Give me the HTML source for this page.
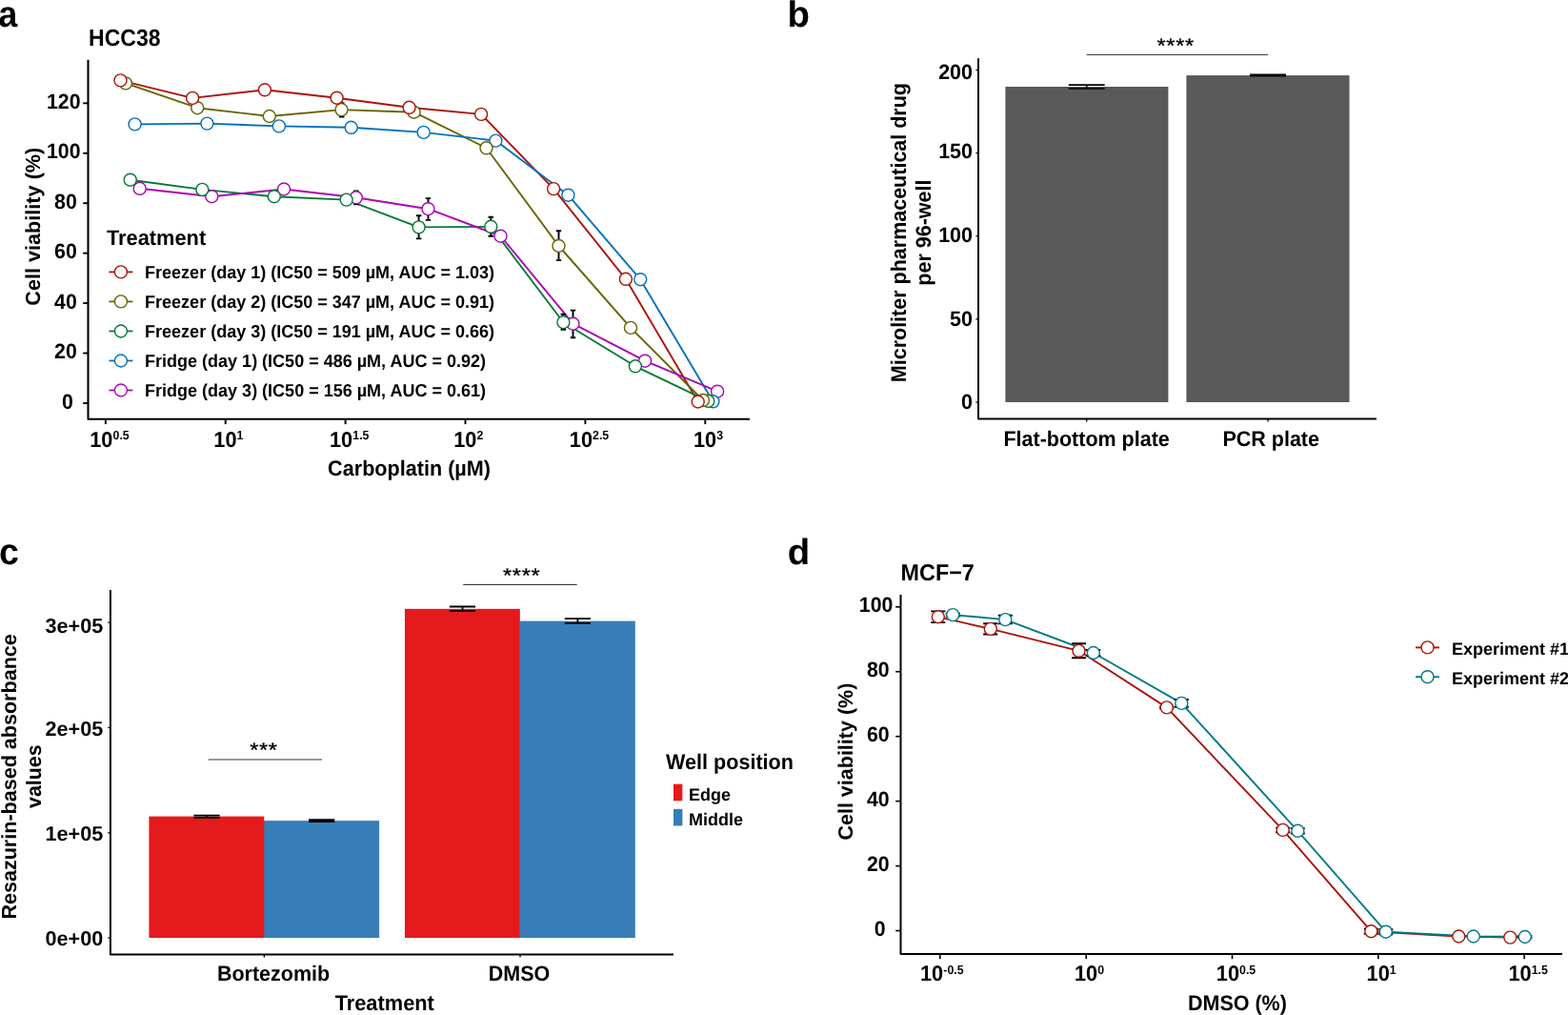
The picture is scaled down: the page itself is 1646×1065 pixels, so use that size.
<!DOCTYPE html>
<html lang="en">
<head>
<meta charset="utf-8">
<title>Figure</title>
<style>
html,body{margin:0;padding:0;background:#fff;}
body{width:1646px;height:1065px;overflow:hidden;}
svg{display:block;font-family:'Liberation Sans', Arial, Helvetica, sans-serif;text-rendering:geometricPrecision;}
</style>
</head>
<body>
<svg width="1646" height="1065" viewBox="0 0 1646 1065">
<rect x="0" y="0" width="1646" height="1065" fill="#ffffff"/>
<text transform="translate(-1.70 28.00) scale(1 1.075)" font-size="36.0" text-anchor="start" font-weight="bold" fill="#000" >a</text>
<text transform="translate(93.05 47.50) scale(1 1.075)" font-size="23.0" text-anchor="start" font-weight="bold" fill="#000" >HCC38</text>
<polyline points="92.5,62.8 92.5,439.8 787,439.8" fill="none" stroke="#000" stroke-width="2.1" stroke-linejoin="round"/>
<line x1="87.2" y1="423.0" x2="92.5" y2="423.0" stroke="#000" stroke-width="1.9" />
<text transform="translate(76.80 428.50) scale(1 1.042)" font-size="21.3" text-anchor="end" font-weight="bold" fill="#000" >0</text>
<line x1="87.2" y1="370.55" x2="92.5" y2="370.55" stroke="#000" stroke-width="1.9" />
<text transform="translate(80.80 376.05) scale(1 1.042)" font-size="21.3" text-anchor="end" font-weight="bold" fill="#000" >20</text>
<line x1="87.2" y1="318.1" x2="92.5" y2="318.1" stroke="#000" stroke-width="1.9" />
<text transform="translate(80.80 323.60) scale(1 1.042)" font-size="21.3" text-anchor="end" font-weight="bold" fill="#000" >40</text>
<line x1="87.2" y1="265.65" x2="92.5" y2="265.65" stroke="#000" stroke-width="1.9" />
<text transform="translate(80.80 271.15) scale(1 1.042)" font-size="21.3" text-anchor="end" font-weight="bold" fill="#000" >60</text>
<line x1="87.2" y1="213.2" x2="92.5" y2="213.2" stroke="#000" stroke-width="1.9" />
<text transform="translate(80.80 218.70) scale(1 1.042)" font-size="21.3" text-anchor="end" font-weight="bold" fill="#000" >80</text>
<line x1="87.2" y1="160.75" x2="92.5" y2="160.75" stroke="#000" stroke-width="1.9" />
<text transform="translate(84.50 166.25) scale(1 1.042)" font-size="21.3" text-anchor="end" font-weight="bold" fill="#000" >100</text>
<line x1="87.2" y1="108.30000000000001" x2="92.5" y2="108.30000000000001" stroke="#000" stroke-width="1.9" />
<text transform="translate(84.50 113.80) scale(1 1.042)" font-size="21.3" text-anchor="end" font-weight="bold" fill="#000" >120</text>
<line x1="110.85" y1="439.8" x2="110.85" y2="445.1" stroke="#000" stroke-width="1.9" />
<text transform="translate(94.30 468.60) scale(1 1.053)" font-size="21.7" text-anchor="start" font-weight="bold" fill="#000">10</text>
<text transform="translate(118.54 460.80) scale(1 1.06)" font-size="12.3" text-anchor="start" font-weight="bold" fill="#000">0.5</text>
<line x1="236.7" y1="439.8" x2="236.7" y2="445.1" stroke="#000" stroke-width="1.9" />
<text transform="translate(224.35 468.60) scale(1 1.053)" font-size="21.7" text-anchor="start" font-weight="bold" fill="#000">10</text>
<text transform="translate(248.59 460.80) scale(1 1.06)" font-size="12.3" text-anchor="start" font-weight="bold" fill="#000">1</text>
<line x1="362.6" y1="439.8" x2="362.6" y2="445.1" stroke="#000" stroke-width="1.9" />
<text transform="translate(346.05 468.60) scale(1 1.053)" font-size="21.7" text-anchor="start" font-weight="bold" fill="#000">10</text>
<text transform="translate(370.29 460.80) scale(1 1.06)" font-size="12.3" text-anchor="start" font-weight="bold" fill="#000">1.5</text>
<line x1="488.5" y1="439.8" x2="488.5" y2="445.1" stroke="#000" stroke-width="1.9" />
<text transform="translate(476.15 468.60) scale(1 1.053)" font-size="21.7" text-anchor="start" font-weight="bold" fill="#000">10</text>
<text transform="translate(500.39 460.80) scale(1 1.06)" font-size="12.3" text-anchor="start" font-weight="bold" fill="#000">2</text>
<line x1="614.4" y1="439.8" x2="614.4" y2="445.1" stroke="#000" stroke-width="1.9" />
<text transform="translate(597.85 468.60) scale(1 1.053)" font-size="21.7" text-anchor="start" font-weight="bold" fill="#000">10</text>
<text transform="translate(622.09 460.80) scale(1 1.06)" font-size="12.3" text-anchor="start" font-weight="bold" fill="#000">2.5</text>
<line x1="740.3" y1="439.8" x2="740.3" y2="445.1" stroke="#000" stroke-width="1.9" />
<text transform="translate(727.95 468.60) scale(1 1.053)" font-size="21.7" text-anchor="start" font-weight="bold" fill="#000">10</text>
<text transform="translate(752.19 460.80) scale(1 1.06)" font-size="12.3" text-anchor="start" font-weight="bold" fill="#000">3</text>
<text transform="translate(429.55 499.10) scale(1 1.045)" font-size="21.62" text-anchor="middle" font-weight="bold" fill="#000" >Carboplatin (µM)</text>
<text transform="translate(42.30 237.70) rotate(-90)" font-size="21.65" text-anchor="middle" font-weight="bold" fill="#000" >Cell viability (%)</text>
<polyline points="126.5,84.4 202.1,102.9 277.9,94.3 353.6,102.7 429.6,112.8 505.1,119.9 581.1,198.1 656.9,292.8 732.7,421.5" fill="none" stroke="#AB1408" stroke-width="1.9" stroke-linejoin="round"/>
<polyline points="131.9,87.4 207.2,113.2 282.8,122.0 358.5,115.1 434.5,117.7 510.5,155.3 586.5,258.0 662.0,343.9 738.0,420.0" fill="none" stroke="#676400" stroke-width="1.9" stroke-linejoin="round"/>
<polyline points="136.7,188.7 212.3,198.9 287.8,206.2 363.6,209.6 439.6,238.4 515.3,237.8 591.4,338.2 666.9,384.3 743.3,420.8" fill="none" stroke="#007A35" stroke-width="1.9" stroke-linejoin="round"/>
<polyline points="141.6,130.4 217.4,129.6 292.9,132.4 368.7,133.8 444.7,138.9 520.4,147.6 596.4,204.7 672.2,293.2 748.4,421.3" fill="none" stroke="#0070BE" stroke-width="1.9" stroke-linejoin="round"/>
<polyline points="146.7,197.8 222.3,206.2 298.0,198.5 373.8,207.3 449.5,219.2 525.5,247.7 601.5,339.7 677.1,378.7 753.1,410.7" fill="none" stroke="#AB06B6" stroke-width="1.9" stroke-linejoin="round"/>
<path d="M436.9 226.3H442.4M436.9 250.4H442.4M439.6 226.3V250.4" fill="none" stroke="#000" stroke-width="1.9"/>
<path d="M446.8 208.1H452.2M446.8 230.9H452.2M449.5 208.1V230.9" fill="none" stroke="#000" stroke-width="1.9"/>
<path d="M512.5 227.8H518.0M512.5 247.7H518.0M515.3 227.8V247.7" fill="none" stroke="#000" stroke-width="1.9"/>
<path d="M583.8 242.2H589.2M583.8 273.1H589.2M586.5 242.2V273.1" fill="none" stroke="#000" stroke-width="1.9"/>
<path d="M588.6 329.8H594.1M588.6 345.7H594.1M591.4 329.8V345.7" fill="none" stroke="#000" stroke-width="1.9"/>
<path d="M598.8 325.6H604.2M598.8 354.2H604.2M601.5 325.6V354.2" fill="none" stroke="#000" stroke-width="1.9"/>
<path d="M371.1 200.4H376.6M371.1 214.4H376.6M373.9 200.4V214.4" fill="none" stroke="#000" stroke-width="1.9"/>
<path d="M355.9 108.1H361.4M355.9 122.6H361.4M358.7 108.1V122.6" fill="none" stroke="#000" stroke-width="1.9"/>
<circle cx="146.7" cy="197.8" r="6.5" fill="#fff" stroke="#AB06B6" stroke-width="1.4"/>
<circle cx="222.3" cy="206.2" r="6.5" fill="#fff" stroke="#AB06B6" stroke-width="1.4"/>
<circle cx="298.0" cy="198.5" r="6.5" fill="#fff" stroke="#AB06B6" stroke-width="1.4"/>
<circle cx="373.8" cy="207.3" r="6.5" fill="#fff" stroke="#AB06B6" stroke-width="1.4"/>
<circle cx="449.5" cy="219.2" r="6.5" fill="#fff" stroke="#AB06B6" stroke-width="1.4"/>
<circle cx="525.5" cy="247.7" r="6.5" fill="#fff" stroke="#AB06B6" stroke-width="1.4"/>
<circle cx="601.5" cy="339.7" r="6.5" fill="#fff" stroke="#AB06B6" stroke-width="1.4"/>
<circle cx="677.1" cy="378.7" r="6.5" fill="#fff" stroke="#AB06B6" stroke-width="1.4"/>
<circle cx="753.1" cy="410.7" r="6.5" fill="#fff" stroke="#AB06B6" stroke-width="1.4"/>
<circle cx="141.6" cy="130.4" r="6.5" fill="#fff" stroke="#0070BE" stroke-width="1.4"/>
<circle cx="217.4" cy="129.6" r="6.5" fill="#fff" stroke="#0070BE" stroke-width="1.4"/>
<circle cx="292.9" cy="132.4" r="6.5" fill="#fff" stroke="#0070BE" stroke-width="1.4"/>
<circle cx="368.7" cy="133.8" r="6.5" fill="#fff" stroke="#0070BE" stroke-width="1.4"/>
<circle cx="444.7" cy="138.9" r="6.5" fill="#fff" stroke="#0070BE" stroke-width="1.4"/>
<circle cx="520.4" cy="147.6" r="6.5" fill="#fff" stroke="#0070BE" stroke-width="1.4"/>
<circle cx="596.4" cy="204.7" r="6.5" fill="#fff" stroke="#0070BE" stroke-width="1.4"/>
<circle cx="672.2" cy="293.2" r="6.5" fill="#fff" stroke="#0070BE" stroke-width="1.4"/>
<circle cx="748.4" cy="421.3" r="6.5" fill="#fff" stroke="#0070BE" stroke-width="1.4"/>
<circle cx="136.7" cy="188.7" r="6.5" fill="#fff" stroke="#007A35" stroke-width="1.4"/>
<circle cx="212.3" cy="198.9" r="6.5" fill="#fff" stroke="#007A35" stroke-width="1.4"/>
<circle cx="287.8" cy="206.2" r="6.5" fill="#fff" stroke="#007A35" stroke-width="1.4"/>
<circle cx="363.6" cy="209.6" r="6.5" fill="#fff" stroke="#007A35" stroke-width="1.4"/>
<circle cx="439.6" cy="238.4" r="6.5" fill="#fff" stroke="#007A35" stroke-width="1.4"/>
<circle cx="515.3" cy="237.8" r="6.5" fill="#fff" stroke="#007A35" stroke-width="1.4"/>
<circle cx="591.4" cy="338.2" r="6.5" fill="#fff" stroke="#007A35" stroke-width="1.4"/>
<circle cx="666.9" cy="384.3" r="6.5" fill="#fff" stroke="#007A35" stroke-width="1.4"/>
<circle cx="743.3" cy="420.8" r="6.5" fill="#fff" stroke="#007A35" stroke-width="1.4"/>
<circle cx="131.9" cy="87.4" r="6.5" fill="#fff" stroke="#676400" stroke-width="1.4"/>
<circle cx="207.2" cy="113.2" r="6.5" fill="#fff" stroke="#676400" stroke-width="1.4"/>
<circle cx="282.8" cy="122.0" r="6.5" fill="#fff" stroke="#676400" stroke-width="1.4"/>
<circle cx="358.5" cy="115.1" r="6.5" fill="#fff" stroke="#676400" stroke-width="1.4"/>
<circle cx="434.5" cy="117.7" r="6.5" fill="#fff" stroke="#676400" stroke-width="1.4"/>
<circle cx="510.5" cy="155.3" r="6.5" fill="#fff" stroke="#676400" stroke-width="1.4"/>
<circle cx="586.5" cy="258.0" r="6.5" fill="#fff" stroke="#676400" stroke-width="1.4"/>
<circle cx="662.0" cy="343.9" r="6.5" fill="#fff" stroke="#676400" stroke-width="1.4"/>
<circle cx="738.0" cy="420.0" r="6.5" fill="#fff" stroke="#676400" stroke-width="1.4"/>
<circle cx="126.5" cy="84.4" r="6.5" fill="#fff" stroke="#AB1408" stroke-width="1.4"/>
<circle cx="202.1" cy="102.9" r="6.5" fill="#fff" stroke="#AB1408" stroke-width="1.4"/>
<circle cx="277.9" cy="94.3" r="6.5" fill="#fff" stroke="#AB1408" stroke-width="1.4"/>
<circle cx="353.6" cy="102.7" r="6.5" fill="#fff" stroke="#AB1408" stroke-width="1.4"/>
<circle cx="429.6" cy="112.8" r="6.5" fill="#fff" stroke="#AB1408" stroke-width="1.4"/>
<circle cx="505.1" cy="119.9" r="6.5" fill="#fff" stroke="#AB1408" stroke-width="1.4"/>
<circle cx="581.1" cy="198.1" r="6.5" fill="#fff" stroke="#AB1408" stroke-width="1.4"/>
<circle cx="656.9" cy="292.8" r="6.5" fill="#fff" stroke="#AB1408" stroke-width="1.4"/>
<circle cx="732.7" cy="421.5" r="6.5" fill="#fff" stroke="#AB1408" stroke-width="1.4"/>
<text transform="translate(112.00 257.00) scale(1 1.025)" font-size="21.8" text-anchor="start" font-weight="bold" fill="#000" >Treatment</text>
<line x1="114.4" y1="285.4" x2="139.4" y2="285.4" stroke="#AB1408" stroke-width="1.75" />
<circle cx="126.9" cy="285.4" r="6.5" fill="#fff" stroke="#AB1408" stroke-width="1.4"/>
<text transform="translate(152.10 291.70) scale(1 1.04)" font-size="18" text-anchor="start" font-weight="bold" fill="#000" >Freezer (day 1) (IC50 = 509 µM, AUC = 1.03)</text>
<line x1="114.4" y1="316.42999999999995" x2="139.4" y2="316.42999999999995" stroke="#676400" stroke-width="1.75" />
<circle cx="126.9" cy="316.4" r="6.5" fill="#fff" stroke="#676400" stroke-width="1.4"/>
<text transform="translate(152.10 322.73) scale(1 1.04)" font-size="18" text-anchor="start" font-weight="bold" fill="#000" >Freezer (day 2) (IC50 = 347 µM, AUC = 0.91)</text>
<line x1="114.4" y1="347.46" x2="139.4" y2="347.46" stroke="#007A35" stroke-width="1.75" />
<circle cx="126.9" cy="347.5" r="6.5" fill="#fff" stroke="#007A35" stroke-width="1.4"/>
<text transform="translate(152.10 353.76) scale(1 1.04)" font-size="18" text-anchor="start" font-weight="bold" fill="#000" >Freezer (day 3) (IC50 = 191 µM, AUC = 0.66)</text>
<line x1="114.4" y1="378.49" x2="139.4" y2="378.49" stroke="#0070BE" stroke-width="1.75" />
<circle cx="126.9" cy="378.5" r="6.5" fill="#fff" stroke="#0070BE" stroke-width="1.4"/>
<text transform="translate(152.10 384.79) scale(1 1.04)" font-size="18" text-anchor="start" font-weight="bold" fill="#000" >Fridge (day 1) (IC50 = 486 µM, AUC = 0.92)</text>
<line x1="114.4" y1="409.52" x2="139.4" y2="409.52" stroke="#AB06B6" stroke-width="1.75" />
<circle cx="126.9" cy="409.5" r="6.5" fill="#fff" stroke="#AB06B6" stroke-width="1.4"/>
<text transform="translate(152.10 415.82) scale(1 1.04)" font-size="18" text-anchor="start" font-weight="bold" fill="#000" >Fridge (day 3) (IC50 = 156 µM, AUC = 0.61)</text>
<text transform="translate(826.60 27.60)" font-size="38.4" text-anchor="start" font-weight="bold" fill="#000" >b</text>
<polyline points="1027,61.3 1027,439.4 1444.9,439.4" fill="none" stroke="#000" stroke-width="2.0" stroke-linejoin="round"/>
<line x1="1024.4" y1="422.0" x2="1027" y2="422.0" stroke="#000" stroke-width="1.3" />
<text transform="translate(1021.00 428.85) scale(1 1.03)" font-size="21.5" text-anchor="end" font-weight="bold" fill="#000" >0</text>
<line x1="1024.4" y1="334.875" x2="1027" y2="334.875" stroke="#000" stroke-width="1.3" />
<text transform="translate(1021.00 341.60) scale(1 1.03)" font-size="21.5" text-anchor="end" font-weight="bold" fill="#000" >50</text>
<line x1="1024.4" y1="247.75" x2="1027" y2="247.75" stroke="#000" stroke-width="1.3" />
<text transform="translate(1021.00 254.00) scale(1 1.03)" font-size="21.5" text-anchor="end" font-weight="bold" fill="#000" >100</text>
<line x1="1024.4" y1="160.625" x2="1027" y2="160.625" stroke="#000" stroke-width="1.3" />
<text transform="translate(1021.00 166.05) scale(1 1.03)" font-size="21.5" text-anchor="end" font-weight="bold" fill="#000" >150</text>
<line x1="1024.4" y1="73.5" x2="1027" y2="73.5" stroke="#000" stroke-width="1.3" />
<text transform="translate(1021.00 83.30) scale(1 1.03)" font-size="21.5" text-anchor="end" font-weight="bold" fill="#000" >200</text>
<rect x="1055.4" y="91" width="171.0" height="331.0" fill="#595959"/>
<rect x="1245.4" y="79.1" width="171.1" height="342.9" fill="#595959"/>
<line x1="1140.7" y1="439.4" x2="1140.7" y2="442.4" stroke="#000" stroke-width="1.3" />
<line x1="1331" y1="439.4" x2="1331" y2="442.4" stroke="#000" stroke-width="1.3" />
<path d="M1121.7 89.1H1159.7M1121.7 93.0H1159.7M1140.7 89.1V93.0" fill="none" stroke="#000" stroke-width="1.6"/>
<path d="M1312.0 78.2H1350.0M1312.0 79.6H1350.0M1331.0 78.2V79.6" fill="none" stroke="#000" stroke-width="1.6"/>
<text transform="translate(1140.60 468.00) scale(1 1.04)" font-size="21.5" text-anchor="middle" font-weight="bold" fill="#000" >Flat-bottom plate</text>
<text transform="translate(1334.20 468.00) scale(1 1.04)" font-size="21.5" text-anchor="middle" font-weight="bold" fill="#000" >PCR plate</text>
<line x1="1140.7" y1="57.45" x2="1331" y2="57.45" stroke="#333" stroke-width="1.0" />
<text transform="translate(1234.19 54.84) scale(1 0.9)" font-size="23.5" text-anchor="middle" font-weight="normal" fill="#000" stroke="#000" stroke-width="0.35" letter-spacing="0.68">****</text>
<text transform="translate(950.90 244.10) rotate(-90) scale(1 1.04)" font-size="21.5" text-anchor="middle" font-weight="bold" fill="#000" >Microliter pharmaceutical drug</text>
<text transform="translate(977.00 244.10) rotate(-90) scale(1 1.04)" font-size="21.5" text-anchor="middle" font-weight="bold" fill="#000" >per 96-well</text>
<text transform="translate(-1.10 592.45) scale(1 1.036)" font-size="37.4" text-anchor="start" font-weight="bold" fill="#000" >c</text>
<polyline points="115.9,619.0 115.9,1001.4 707,1001.4" fill="none" stroke="#000" stroke-width="2.0" stroke-linejoin="round"/>
<line x1="113.30000000000001" y1="984.1" x2="115.9" y2="984.1" stroke="#000" stroke-width="1.3" />
<text transform="translate(108.20 992.00)" font-size="21.6" text-anchor="end" font-weight="bold" fill="#000" >0e+00</text>
<line x1="113.30000000000001" y1="873.77" x2="115.9" y2="873.77" stroke="#000" stroke-width="1.3" />
<text transform="translate(108.20 881.70)" font-size="21.6" text-anchor="end" font-weight="bold" fill="#000" >1e+05</text>
<line x1="113.30000000000001" y1="763.44" x2="115.9" y2="763.44" stroke="#000" stroke-width="1.3" />
<text transform="translate(108.20 771.50)" font-size="21.6" text-anchor="end" font-weight="bold" fill="#000" >2e+05</text>
<line x1="113.30000000000001" y1="653.11" x2="115.9" y2="653.11" stroke="#000" stroke-width="1.3" />
<text transform="translate(108.20 663.80)" font-size="21.6" text-anchor="end" font-weight="bold" fill="#000" >3e+05</text>
<rect x="156.4" y="856.6" width="120.9" height="127.5" fill="#E41A1C"/>
<rect x="277.0" y="861.6" width="1.0" height="122.5" fill="#E41A1C"/>
<rect x="277.26" y="861.1" width="120.85" height="123.0" fill="#377EB8"/>
<rect x="424.94" y="638.85" width="120.9" height="345.25" fill="#E41A1C"/>
<rect x="545.5" y="652.1" width="1.0" height="332.0" fill="#E41A1C"/>
<rect x="545.78" y="651.6" width="121.0" height="332.5" fill="#377EB8"/>
<path d="M203.4 855.6H230.7M203.4 857.9H230.7M217.1 855.6V857.9" fill="none" stroke="#000" stroke-width="1.9"/>
<path d="M324.1 860.2H351.3M324.1 862.0H351.3M337.7 860.2V862.0" fill="none" stroke="#000" stroke-width="1.9"/>
<path d="M471.9 636.5H499.1M471.9 641.2H499.1M485.5 636.5V641.2" fill="none" stroke="#000" stroke-width="1.8"/>
<path d="M592.8 649.2H620.0M592.8 653.8H620.0M606.4 649.2V653.8" fill="none" stroke="#000" stroke-width="1.8"/>
<line x1="277.35" y1="1001.4" x2="277.35" y2="1004.4" stroke="#000" stroke-width="1.3" />
<line x1="546.0" y1="1001.4" x2="546.0" y2="1004.4" stroke="#000" stroke-width="1.3" />
<line x1="218.75" y1="797.0" x2="337.95" y2="797.0" stroke="#333" stroke-width="1.0" />
<text transform="translate(276.94 793.74) scale(1 0.9)" font-size="23.5" text-anchor="middle" font-weight="normal" fill="#000" stroke="#000" stroke-width="0.35" letter-spacing="0.68">***</text>
<line x1="486.2" y1="613.5" x2="605.7" y2="613.5" stroke="#333" stroke-width="1.0" />
<text transform="translate(547.64 610.64) scale(1 0.9)" font-size="23.5" text-anchor="middle" font-weight="normal" fill="#000" stroke="#000" stroke-width="0.35" letter-spacing="0.68">****</text>
<text transform="translate(287.00 1029.00) scale(1 1.04)" font-size="21.5" text-anchor="middle" font-weight="bold" fill="#000" >Bortezomib</text>
<text transform="translate(545.00 1029.00) scale(1 1.04)" font-size="21.5" text-anchor="middle" font-weight="bold" fill="#000" >DMSO</text>
<text transform="translate(403.75 1060.00) scale(1 1.04)" font-size="21.8" text-anchor="middle" font-weight="bold" fill="#000" >Treatment</text>
<text transform="translate(16.75 814.90) rotate(-90) scale(1 1.01)" font-size="21.55" text-anchor="middle" font-weight="bold" fill="#000" >Resazurin-based absorbance</text>
<text transform="translate(42.70 814.70) rotate(-90) scale(1 1.03)" font-size="21.35" text-anchor="middle" font-weight="bold" fill="#000" >values</text>
<text transform="translate(699.00 807.40) scale(1 1.04)" font-size="21.6" text-anchor="start" font-weight="bold" fill="#000" >Well position</text>
<rect x="707" y="822.7" width="9.4" height="17.6" fill="#E41A1C"/>
<rect x="707" y="848.85" width="9.4" height="17.6" fill="#377EB8"/>
<text transform="translate(723.00 839.50) scale(1 1.01)" font-size="18" text-anchor="start" font-weight="bold" fill="#000" >Edge</text>
<text transform="translate(723.00 865.50) scale(1 1.01)" font-size="18" text-anchor="start" font-weight="bold" fill="#000" >Middle</text>
<text transform="translate(826.70 592.30) scale(1 0.985)" font-size="38.4" text-anchor="start" font-weight="bold" fill="#000" >d</text>
<text transform="translate(945.60 608.90) scale(1 1.05)" font-size="23.35" text-anchor="start" font-weight="bold" fill="#000" >MCF−7</text>
<polyline points="945.5,623.9 945.5,1001.0 1640,1001.0" fill="none" stroke="#000" stroke-width="2.0" stroke-linejoin="round"/>
<line x1="940.2" y1="976.55" x2="945.5" y2="976.55" stroke="#000" stroke-width="1.6" />
<text transform="translate(929.70 982.05) scale(1 1.042)" font-size="21.3" text-anchor="end" font-weight="bold" fill="#000" >0</text>
<line x1="940.2" y1="908.5999999999999" x2="945.5" y2="908.5999999999999" stroke="#000" stroke-width="1.6" />
<text transform="translate(933.70 914.10) scale(1 1.042)" font-size="21.3" text-anchor="end" font-weight="bold" fill="#000" >20</text>
<line x1="940.2" y1="840.65" x2="945.5" y2="840.65" stroke="#000" stroke-width="1.6" />
<text transform="translate(933.70 846.15) scale(1 1.042)" font-size="21.3" text-anchor="end" font-weight="bold" fill="#000" >40</text>
<line x1="940.2" y1="772.6999999999999" x2="945.5" y2="772.6999999999999" stroke="#000" stroke-width="1.6" />
<text transform="translate(933.70 778.20) scale(1 1.042)" font-size="21.3" text-anchor="end" font-weight="bold" fill="#000" >60</text>
<line x1="940.2" y1="704.75" x2="945.5" y2="704.75" stroke="#000" stroke-width="1.6" />
<text transform="translate(933.70 710.25) scale(1 1.042)" font-size="21.3" text-anchor="end" font-weight="bold" fill="#000" >80</text>
<line x1="940.2" y1="636.8" x2="945.5" y2="636.8" stroke="#000" stroke-width="1.6" />
<text transform="translate(937.40 642.30) scale(1 1.042)" font-size="21.3" text-anchor="end" font-weight="bold" fill="#000" >100</text>
<line x1="986.8" y1="1001.0" x2="986.8" y2="1006.3" stroke="#000" stroke-width="1.6" />
<text transform="translate(966.05 1028.95) scale(1 1.053)" font-size="21.7" text-anchor="start" font-weight="bold" fill="#000">10</text>
<text transform="translate(990.29 1022.10) scale(1 1.06)" font-size="12.3" text-anchor="start" font-weight="bold" fill="#000">-0.5</text>
<line x1="1140.2" y1="1001.0" x2="1140.2" y2="1006.3" stroke="#000" stroke-width="1.6" />
<text transform="translate(1128.00 1028.95) scale(1 1.053)" font-size="21.7" text-anchor="start" font-weight="bold" fill="#000">10</text>
<text transform="translate(1152.24 1022.10) scale(1 1.06)" font-size="12.3" text-anchor="start" font-weight="bold" fill="#000">0</text>
<line x1="1293.5" y1="1001.0" x2="1293.5" y2="1006.3" stroke="#000" stroke-width="1.6" />
<text transform="translate(1276.85 1028.95) scale(1 1.053)" font-size="21.7" text-anchor="start" font-weight="bold" fill="#000">10</text>
<text transform="translate(1301.09 1022.10) scale(1 1.06)" font-size="12.3" text-anchor="start" font-weight="bold" fill="#000">0.5</text>
<line x1="1446.8" y1="1001.0" x2="1446.8" y2="1006.3" stroke="#000" stroke-width="1.6" />
<text transform="translate(1434.60 1028.95) scale(1 1.053)" font-size="21.7" text-anchor="start" font-weight="bold" fill="#000">10</text>
<text transform="translate(1458.84 1022.10) scale(1 1.06)" font-size="12.3" text-anchor="start" font-weight="bold" fill="#000">1</text>
<line x1="1600.1" y1="1001.0" x2="1600.1" y2="1006.3" stroke="#000" stroke-width="1.6" />
<text transform="translate(1583.45 1028.95) scale(1 1.053)" font-size="21.7" text-anchor="start" font-weight="bold" fill="#000">10</text>
<text transform="translate(1607.69 1022.10) scale(1 1.06)" font-size="12.3" text-anchor="start" font-weight="bold" fill="#000">1.5</text>
<text transform="translate(1298.90 1060.30) scale(1 1.04)" font-size="21.5" text-anchor="middle" font-weight="bold" fill="#000" >DMSO (%)</text>
<text transform="translate(895.20 799.10) rotate(-90)" font-size="21.5" text-anchor="middle" font-weight="bold" fill="#000" >Cell viability (%)</text>
<polyline points="984.8,647.2 1039.8,659.9 1132.5,682.8 1224.8,742.4 1346.7,870.9 1439.3,977.2 1531.3,982.5 1585.3,983.6" fill="none" stroke="#AB1408" stroke-width="1.9" stroke-linejoin="round"/>
<polyline points="1000.2,645.1 1055.3,650.1 1147.8,685.0 1240.3,737.9 1362.3,871.8 1454.8,977.7 1546.7,982.5 1600.8,983.0" fill="none" stroke="#007A87" stroke-width="1.9" stroke-linejoin="round"/>
<path d="M977.2 641.4H992.3M977.2 653.1H992.3M984.8 641.4V653.1" fill="none" stroke="#000" stroke-width="1.9"/>
<path d="M1032.2 654.2H1047.3M1032.2 665.5H1047.3M1039.8 654.2V665.5" fill="none" stroke="#000" stroke-width="1.9"/>
<path d="M1125.0 675.3H1140.0M1125.0 690.3H1140.0M1132.5 675.3V690.3" fill="none" stroke="#000" stroke-width="1.9"/>
<path d="M1217.2 741.4H1232.3M1217.2 743.4H1232.3M1224.8 741.4V743.4" fill="none" stroke="#000" stroke-width="1.9"/>
<path d="M1339.2 868.6H1354.2M1339.2 873.2H1354.2M1346.7 868.6V873.2" fill="none" stroke="#000" stroke-width="1.9"/>
<path d="M1431.8 974.7H1446.8M1431.8 979.7H1446.8M1439.3 974.7V979.7" fill="none" stroke="#000" stroke-width="1.9"/>
<path d="M992.7 643.6H1007.8M992.7 646.6H1007.8M1000.2 643.6V646.6" fill="none" stroke="#000" stroke-width="1.9"/>
<path d="M1047.8 645.8H1062.8M1047.8 654.4H1062.8M1055.3 645.8V654.4" fill="none" stroke="#000" stroke-width="1.9"/>
<path d="M1140.2 682.0H1155.3M1140.2 688.0H1155.3M1147.8 682.0V688.0" fill="none" stroke="#000" stroke-width="1.9"/>
<path d="M1232.8 734.0H1247.8M1232.8 741.8H1247.8M1240.3 734.0V741.8" fill="none" stroke="#000" stroke-width="1.9"/>
<path d="M1354.8 869.1H1369.8M1354.8 874.5H1369.8M1362.3 869.1V874.5" fill="none" stroke="#000" stroke-width="1.9"/>
<path d="M1447.2 975.2H1462.3M1447.2 980.2H1462.3M1454.8 975.2V980.2" fill="none" stroke="#000" stroke-width="1.9"/>
<path d="M1593.2 982.0H1608.3M1593.2 984.0H1608.3M1600.8 982.0V984.0" fill="none" stroke="#000" stroke-width="1.9"/>
<circle cx="1000.2" cy="645.1" r="6.5" fill="#fff" stroke="#007A87" stroke-width="1.4"/>
<circle cx="1055.3" cy="650.1" r="6.5" fill="#fff" stroke="#007A87" stroke-width="1.4"/>
<circle cx="1147.8" cy="685.0" r="6.5" fill="#fff" stroke="#007A87" stroke-width="1.4"/>
<circle cx="1240.3" cy="737.9" r="6.5" fill="#fff" stroke="#007A87" stroke-width="1.4"/>
<circle cx="1362.3" cy="871.8" r="6.5" fill="#fff" stroke="#007A87" stroke-width="1.4"/>
<circle cx="1454.8" cy="977.7" r="6.5" fill="#fff" stroke="#007A87" stroke-width="1.4"/>
<circle cx="1546.7" cy="982.5" r="6.5" fill="#fff" stroke="#007A87" stroke-width="1.4"/>
<circle cx="1600.8" cy="983.0" r="6.5" fill="#fff" stroke="#007A87" stroke-width="1.4"/>
<circle cx="984.8" cy="647.2" r="6.5" fill="#fff" stroke="#AB1408" stroke-width="1.4"/>
<circle cx="1039.8" cy="659.9" r="6.5" fill="#fff" stroke="#AB1408" stroke-width="1.4"/>
<circle cx="1132.5" cy="682.8" r="6.5" fill="#fff" stroke="#AB1408" stroke-width="1.4"/>
<circle cx="1224.8" cy="742.4" r="6.5" fill="#fff" stroke="#AB1408" stroke-width="1.4"/>
<circle cx="1346.7" cy="870.9" r="6.5" fill="#fff" stroke="#AB1408" stroke-width="1.4"/>
<circle cx="1439.3" cy="977.2" r="6.5" fill="#fff" stroke="#AB1408" stroke-width="1.4"/>
<circle cx="1531.3" cy="982.5" r="6.5" fill="#fff" stroke="#AB1408" stroke-width="1.4"/>
<circle cx="1585.3" cy="983.6" r="6.5" fill="#fff" stroke="#AB1408" stroke-width="1.4"/>
<line x1="1486" y1="679.4" x2="1510.9" y2="679.4" stroke="#AB1408" stroke-width="1.9" />
<circle cx="1498.5" cy="679.4" r="6.5" fill="#fff" stroke="#AB1408" stroke-width="1.4"/>
<text transform="translate(1524.00 686.60) scale(1 1.01)" font-size="18" text-anchor="start" font-weight="bold" fill="#000" >Experiment #1</text>
<line x1="1486" y1="710.25" x2="1510.9" y2="710.25" stroke="#007A87" stroke-width="1.9" />
<circle cx="1498.5" cy="710.2" r="6.5" fill="#fff" stroke="#007A87" stroke-width="1.4"/>
<text transform="translate(1524.00 717.50) scale(1 1.01)" font-size="18" text-anchor="start" font-weight="bold" fill="#000" >Experiment #2</text>
</svg>
</body>
</html>
